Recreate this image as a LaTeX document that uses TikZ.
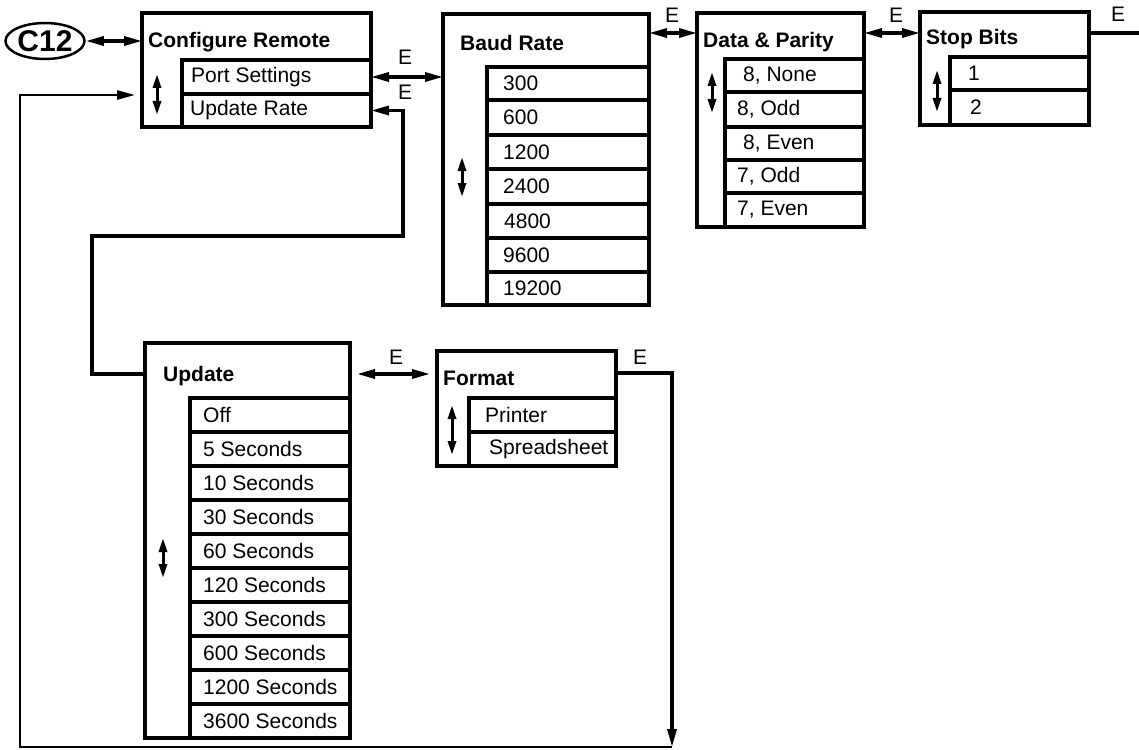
\documentclass[tikz,border=0pt]{standalone}
\usepackage{fontspec}
\setmainfont{Liberation Sans}
\usetikzlibrary{arrows.meta,shapes.geometric}
\newcommand\rowfnt{\fontsize{21}{25}\selectfont}
\newcommand\ttlfnt{\fontsize{21}{25}\selectfont\bfseries}
\newcommand\cfnt{\fontsize{30}{34}\selectfont\bfseries}
\tikzset{
  box/.style={draw, line width=3.5pt, anchor=north west, inner sep=0pt, outer sep=0pt},
  rowtext/.style={anchor=west, inner sep=0pt, font=\rowfnt},
  ttl/.style={anchor=west, inner sep=0pt, font=\ttlfnt},
  elab/.style={inner sep=0pt, font=\rowfnt},
  conn/.style={line width=3.2pt},
  loopline/.style={line width=2.5pt},
  >={Triangle[length=18pt,width=9pt]},
  ud/.style={line width=3pt, {Triangle[length=14pt,width=8pt]}-{Triangle[length=14pt,width=8pt]}}
}
\newcommand\rowbox[7]{\node[box, minimum width=#4pt, minimum height=#5pt,
  label={[rowtext, xshift=#6pt]west:{#7}}] (#1) at (#2,#3) {};}
\begin{document}
\begin{tikzpicture}[x=1pt,y=-1pt]
\useasboundingbox (0,0) rectangle (1139,749);
% C12
\node[draw, ellipse, line width=2.5pt, minimum width=79pt, minimum height=36pt, inner sep=0pt, font=\cfnt] (c12) at (45,41) {C12};
% Configure Remote
\node[box, minimum width=229pt, minimum height=114pt] (cr) at (142,13) {};
\node[ttl] (crt) at (148,42) {Configure Remote};
\rowbox{ps}{182}{60}{189}{34}{9}{Port Settings}
\rowbox{ur}{182}{94}{189}{33}{8}{Update Rate}
\draw[ud] (157,74) -- (157,115);
% Baud Rate
\node[box, minimum width=206pt, minimum height=291pt] (br) at (443,14) {};
\node[ttl] (brt) at (460,43) {Baud Rate};
\rowbox{b1}{487}{67}{162}{33}{16}{300}
\rowbox{b2}{487}{100}{162}{35}{16}{600}
\rowbox{b3}{487}{135}{162}{34}{16}{1200}
\rowbox{b4}{487}{169}{162}{35}{16}{2400}
\rowbox{b5}{487}{204}{162}{34}{17}{4800}
\rowbox{b6}{487}{238}{162}{34}{16}{9600}
\rowbox{b7}{487}{272}{162}{33}{16}{19200}
\draw[ud] (462,157) -- (462,197);
% Data & Parity
\node[box, minimum width=167pt, minimum height=214pt] (dp) at (697,13) {};
\node[ttl] (dpt) at (703,42) {Data \& Parity};
\rowbox{d1}{725}{59}{139}{33}{18}{8, None}
\rowbox{d2}{725}{92}{139}{35}{12}{8, Odd}
\rowbox{d3}{725}{127}{139}{33}{18}{8, Even}
\rowbox{d4}{725}{160}{139}{33}{12}{7, Odd}
\rowbox{d5}{725}{193}{139}{34}{12}{7, Even}
\draw[ud] (712,72) -- (712,113);
% Stop Bits
\node[box, minimum width=169pt, minimum height=113pt] (sb) at (920,12) {};
\node[ttl] (sbt) at (926,39) {Stop Bits};
\rowbox{s1}{950}{57}{139}{33}{18}{1}
\rowbox{s2}{950}{90}{139}{35}{20}{2}
\draw[ud] (937,70) -- (937,112);
% Update
\node[box, minimum width=205pt, minimum height=395pt] (up) at (145,343) {};
\node[ttl] (upt) at (163,376) {Update};
\rowbox{u1}{190}{398}{160}{34}{13}{Off}
\rowbox{u2}{190}{432}{160}{34}{13}{5 Seconds}
\rowbox{u3}{190}{466}{160}{34}{13}{10 Seconds}
\rowbox{u4}{190}{500}{160}{34}{13}{30 Seconds}
\rowbox{u5}{190}{534}{160}{34}{13}{60 Seconds}
\rowbox{u6}{190}{568}{160}{34}{13}{120 Seconds}
\rowbox{u7}{190}{602}{160}{34}{13}{300 Seconds}
\rowbox{u8}{190}{636}{160}{34}{13}{600 Seconds}
\rowbox{u9}{190}{670}{160}{34}{13}{1200 Seconds}
\rowbox{u10}{190}{704}{160}{34}{13}{3600 Seconds}
\draw[ud] (163,538) -- (163,578);
% Format
\node[box, minimum width=179pt, minimum height=115pt] (fm) at (437,351) {};
\node[ttl] (fmt) at (443,378) {Format};
\rowbox{f1}{469}{398}{147}{34}{16}{Printer}
\rowbox{f2}{469}{432}{147}{34}{20}{Spreadsheet}
\draw[ud] (452,405) -- (452,455);
% helper coordinates
\coordinate (y33) at (0,33);
\coordinate (y95) at (0,95);
\coordinate (y374) at (0,374);
\coordinate (urturn) at (403,236);
\coordinate (upturn) at (92,236);
\coordinate (fmout) at (672,373);
\coordinate (botr) at (672,747);
\coordinate (botl) at (20,747);
\coordinate (topl) at (20,95);
\coordinate (sbout) at (1139,33);
% connectors
\draw[conn,<->] (c12.east) -- (c12.east -| cr.west);
\draw[conn,<->] (ps.east) -- (ps.east -| br.west);
\draw[conn,<->] (br.east |- y33) -- (dp.west |- y33);
\draw[conn,<->] (dp.east |- y33) -- (sb.west |- y33);
\draw[conn] (sb.east |- y33) -- (sbout);
\draw[conn,<-] (ur.east) -| (urturn) -- (upturn) |- (up.west |- y374);
\draw[conn,<->] ([xshift=7pt]up.east |- y374) -- ([xshift=-7pt]fm.west |- y374);
\draw[conn,->] (fm.east |- fmout) -- (fmout) -- (botr);
\draw[loopline,->,shorten >=7pt] (botr) -- (botl) -- (topl) -- (cr.west |- y95);
% E labels
\node[elab] (e1) at (405,57) {E};
\node[elab] (e2) at (405,92) {E};
\node[elab] (e3) at (672,15) {E};
\node[elab] (e4) at (896,15) {E};
\node[elab] (e5) at (1118,14) {E};
\node[elab] (e6) at (396,357) {E};
\node[elab] (e7) at (640,357) {E};
\end{tikzpicture}
\end{document}
